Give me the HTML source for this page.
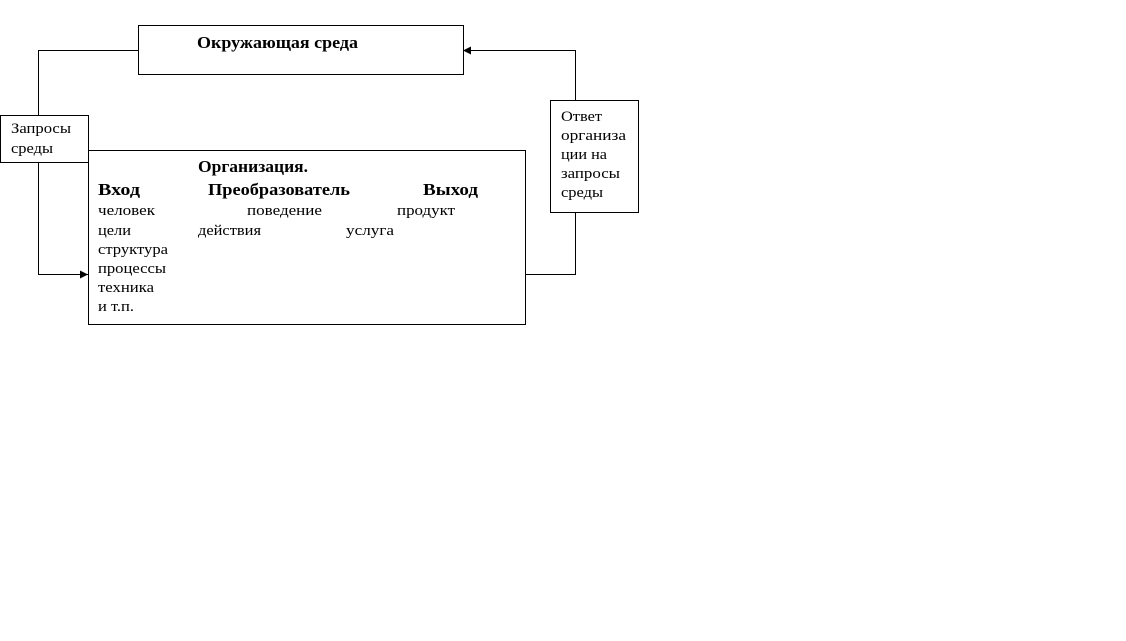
<!DOCTYPE html>
<html><head><meta charset="utf-8"><style>
html,body{margin:0;padding:0;background:#fff;}
svg{display:block;}
text{font-family:"Liberation Serif","DejaVu Serif",serif;fill:#000;}
.b{font-weight:bold;font-size:17px;}
.n{font-size:15px;}
</style></head><body>
<svg width="1126" height="641" viewBox="0 0 1126 641" xmlns="http://www.w3.org/2000/svg">
<defs><marker id="a" markerWidth="8" markerHeight="8" refX="8" refY="4" orient="auto" markerUnits="userSpaceOnUse"><path d="M0,0 L8,4 L0,8 z" fill="#000"/></marker></defs>
<g fill="none" stroke="#000" stroke-width="1">
<rect x="138.5" y="25.5" width="325" height="49"/>
<rect x="88.5" y="150.5" width="437" height="174"/>
<rect x="0.5" y="115.5" width="88" height="47" fill="#fff"/>
<rect x="550.5" y="100.5" width="88" height="112"/>
<polyline points="138,50.5 38.5,50.5 38.5,115"/>
<polyline points="38.5,162 38.5,274.5 88,274.5" marker-end="url(#a)"/>
<polyline points="525,274.5 575.5,274.5 575.5,212"/>
<polyline points="575.5,100 575.5,50.5 463,50.5" marker-end="url(#a)"/>
</g>
<g lengthAdjust="spacingAndGlyphs">
<text class="b" x="197" y="48" textLength="161" lengthAdjust="spacingAndGlyphs">Окружающая среда</text>
<text class="n" x="11" y="133" textLength="60" lengthAdjust="spacingAndGlyphs">Запросы</text>
<text class="n" x="11" y="153" textLength="42" lengthAdjust="spacingAndGlyphs">среды</text>
<text class="n" x="561" y="121" textLength="41" lengthAdjust="spacingAndGlyphs">Ответ</text>
<text class="n" x="561" y="140" textLength="65" lengthAdjust="spacingAndGlyphs">организа</text>
<text class="n" x="561" y="159" textLength="46" lengthAdjust="spacingAndGlyphs">ции на</text>
<text class="n" x="561" y="178" textLength="59" lengthAdjust="spacingAndGlyphs">запросы</text>
<text class="n" x="561" y="197" textLength="42" lengthAdjust="spacingAndGlyphs">среды</text>
<text class="b" x="198" y="172" textLength="110" lengthAdjust="spacingAndGlyphs">Организация.</text>
<text class="b" x="98" y="195" textLength="42" lengthAdjust="spacingAndGlyphs">Вход</text>
<text class="b" x="208" y="195" textLength="142" lengthAdjust="spacingAndGlyphs">Преобразователь</text>
<text class="b" x="423" y="195" textLength="55" lengthAdjust="spacingAndGlyphs">Выход</text>
<text class="n" x="98" y="215" textLength="57" lengthAdjust="spacingAndGlyphs">человек</text>
<text class="n" x="247" y="215" textLength="75" lengthAdjust="spacingAndGlyphs">поведение</text>
<text class="n" x="397" y="215" textLength="58" lengthAdjust="spacingAndGlyphs">продукт</text>
<text class="n" x="98" y="235" textLength="33" lengthAdjust="spacingAndGlyphs">цели</text>
<text class="n" x="198" y="235" textLength="63" lengthAdjust="spacingAndGlyphs">действия</text>
<text class="n" x="346" y="235" textLength="48" lengthAdjust="spacingAndGlyphs">услуга</text>
<text class="n" x="98" y="254" textLength="70" lengthAdjust="spacingAndGlyphs">структура</text>
<text class="n" x="98" y="273" textLength="68" lengthAdjust="spacingAndGlyphs">процессы</text>
<text class="n" x="98" y="292" textLength="56" lengthAdjust="spacingAndGlyphs">техника</text>
<text class="n" x="98" y="311" textLength="36" lengthAdjust="spacingAndGlyphs">и т.п.</text>
</g>
</svg>
</body></html>
